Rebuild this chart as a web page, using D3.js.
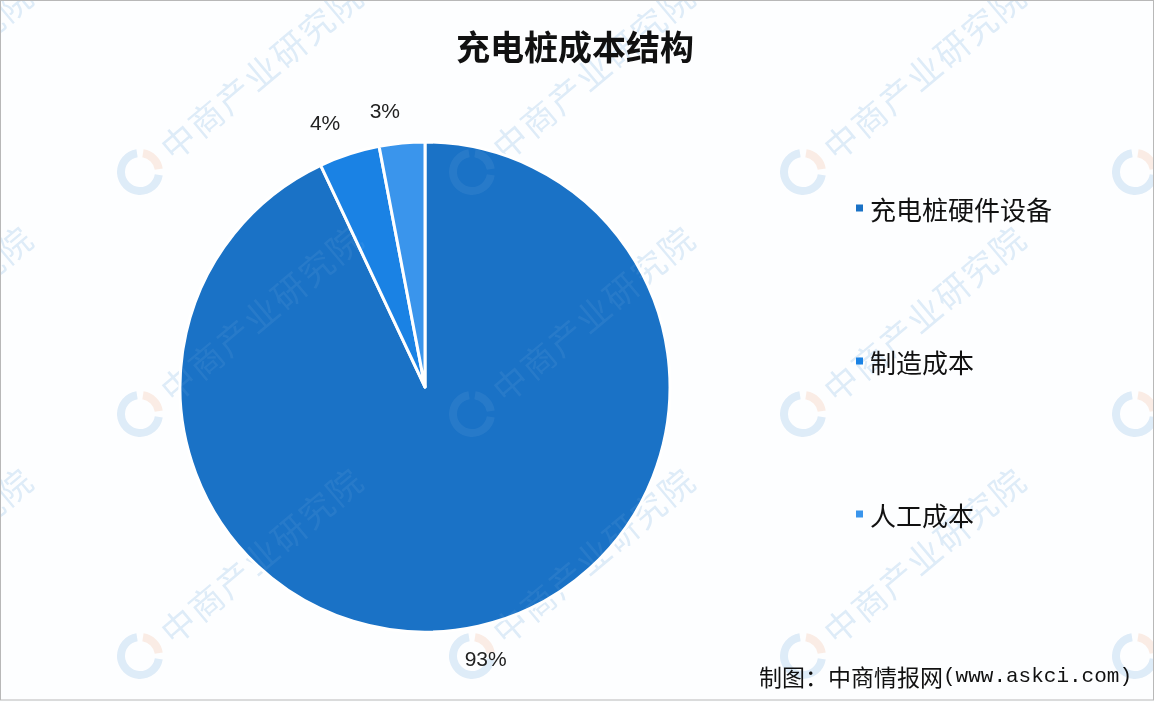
<!DOCTYPE html>
<html><head><meta charset="utf-8">
<script src="https://cdn.jsdelivr.net/npm/d3@7"></script>
<style>html,body{margin:0;padding:0;background:#fff;}svg{display:block;}</style>
</head><body>
<script>
const title = "充电桩成本结构";
const categories = ["充电桩硬件设备", "制造成本", "人工成本"];
const values = [93, 4, 3];
const valueLabels = ["93%", "4%", "3%"];
const colors = ["#1a72c6", "#1a82e4", "#3a95ec"];
const source = "制图：中商情报网";
const sourceUrl = "(www.askci.com)";
const watermarkText = "中商产业研究院";

const W = 1154, H = 702;
const svg = d3.select("body").append("svg").attr("width", W).attr("height", H);
svg.append("rect").attr("width", W).attr("height", H).attr("fill", "#fdfeff");

// watermarks (behind)
function drawWatermarks(layer, textFill, blue, peach) {
  const xs = [-190, 140, 472, 803, 1135];
  const ys = [-73, 172, 414, 656];
  xs.forEach(x => ys.forEach(y => {
    const w = layer.append("g").attr("transform", `translate(${x},${y})`);
    const la = d3.arc().innerRadius(15).outerRadius(23);
    w.append("path").attr("d", la({startAngle: Math.PI * 0.55, endAngle: Math.PI * 1.95})).attr("fill", blue);
    w.append("path").attr("d", la({startAngle: Math.PI * 0.05, endAngle: Math.PI * 0.45})).attr("fill", peach);
    w.append("text").attr("transform", "rotate(-40) translate(32,0)").attr("dominant-baseline", "central")
      .attr("font-family", "'Noto Sans CJK SC', sans-serif").attr("font-size", 34).attr("letter-spacing", 2)
      .attr("fill", textFill).text(watermarkText);
  }));
}
drawWatermarks(svg.append("g").attr("opacity", 0.24), "#7fb2e0", "#7fb2e0", "#f3b592");

const cx = 425, cy = 387, R = 245;
const data = categories.map((c, i) => ({cat: c, value: values[i], label: valueLabels[i], color: colors[i]}));
const pie = d3.pie().sort(null).value(d => d.value);
const arc = d3.arc().innerRadius(0).outerRadius(R);
const arcs = pie(data);

const g = svg.append("g").attr("transform", `translate(${cx},${cy})`);
g.selectAll("path").data(arcs).join("path")
  .attr("d", arc).attr("fill", d => d.data.color)
  .attr("stroke", "#ffffff").attr("stroke-width", 3).attr("stroke-linejoin", "round");

// faint watermark over the pie
const clip = svg.append("clipPath").attr("id", "pieclip");
clip.append("circle").attr("cx", cx).attr("cy", cy).attr("r", R);
drawWatermarks(svg.append("g").attr("clip-path", "url(#pieclip)").attr("opacity", 0.06), "#ffffff", "#ffffff", "#ffffff");

const labelR = 278;
g.selectAll("text.lbl").data(arcs).join("text").attr("class", "lbl")
  .attr("x", d => { const a = (d.startAngle + d.endAngle) / 2; const s = Math.sin(a); return labelR * s + (s < 0 ? -14 : 0); })
  .attr("y", d => { const a = (d.startAngle + d.endAngle) / 2; return -labelR * Math.cos(a); })
  .attr("text-anchor", "middle").attr("dominant-baseline", "central")
  .attr("font-family", "'Liberation Sans', Arial, sans-serif").attr("font-size", 21)
  .attr("fill", "#222").text(d => d.data.label);

// title
svg.append("text").attr("x", 575).attr("y", 45).attr("text-anchor", "middle").attr("dominant-baseline", "central")
  .attr("font-family", "'Noto Sans CJK SC', sans-serif").attr("font-weight", "bold").attr("font-size", 34)
  .attr("fill", "#111").text(title);

// legend
const legendY = d3.scalePoint().domain(categories).range([208, 514]);
const lg = svg.append("g");
lg.selectAll("rect").data(data).join("rect")
  .attr("x", 856).attr("y", d => legendY(d.cat) - 3.5).attr("width", 7).attr("height", 7).attr("fill", d => d.color);
lg.selectAll("text").data(data).join("text")
  .attr("x", 870).attr("y", d => legendY(d.cat)).attr("dominant-baseline", "central")
  .attr("font-family", "'Noto Sans CJK SC', sans-serif").attr("font-size", 26).attr("fill", "#111")
  .text(d => d.cat);

// source
const st = svg.append("text").attr("x", 759).attr("y", 676).attr("dominant-baseline", "central").attr("fill", "#111");
st.append("tspan").attr("font-family", "'Noto Sans CJK SC', sans-serif").attr("font-size", 23).text(source);
st.append("tspan").attr("font-family", "'Liberation Mono', monospace").attr("font-size", 21).text(sourceUrl);

// border
svg.append("rect").attr("x", 0.5).attr("y", 0.5).attr("width", W - 1).attr("height", H - 2.5)
  .attr("fill", "none").attr("stroke", "#b8b8b8").attr("stroke-width", 1);
</script>
</body></html>
